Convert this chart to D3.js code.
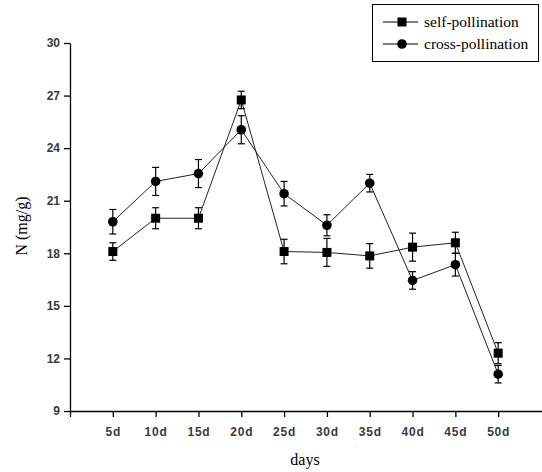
<!DOCTYPE html>
<html>
<head>
<meta charset="utf-8">
<script src="https://cdn.jsdelivr.net/npm/d3@7"></script>
<style>
  body { margin: 0; background: #fff; }
  svg { display: block; }
</style>
</head>
<body>
<div id="chart"></div>
<script>
// N content, self vs cross pollination
const days = ["5d", "10d", "15d", "20d", "25d", "30d", "35d", "40d", "45d", "50d"];
const selfMean = [18.1, 20.0, 20.0, 26.75, 18.1, 18.05, 17.85, 18.35, 18.6, 12.3];
const selfErr  = [0.5, 0.6, 0.6, 0.5, 0.7, 0.8, 0.7, 0.8, 0.6, 0.6];
const crossMean = [19.8, 22.1, 22.55, 25.05, 21.4, 19.6, 22.0, 16.45, 17.35, 11.1];
const crossErr  = [0.7, 0.8, 0.8, 0.8, 0.7, 0.6, 0.5, 0.5, 0.65, 0.5];
const yTicks = [9, 12, 15, 18, 21, 24, 27, 30];

const svg = d3.select("#chart").append("svg")
    .attr("width", 542).attr("height", 472);

const x = d3.scaleLinear().domain([0, 11]).range([70, 541]);
const y = d3.scaleLinear().domain([9, 30]).range([411, 43]);

const tickFont = "'Liberation Sans', Arial, sans-serif";
const serif = "'Liberation Serif', 'Times New Roman', serif";

// y axis
const yAxis = svg.append("g")
    .attr("transform", "translate(70,0)")
    .call(d3.axisLeft(y).tickValues(yTicks).tickSize(6).tickSizeOuter(0).tickPadding(4));
yAxis.selectAll("text").attr("font-family", tickFont).attr("font-size", 12)
    .attr("font-weight", 600).attr("fill", "#3a3a3a");

// x axis
const xAxis = svg.append("g")
    .attr("transform", "translate(0,411)")
    .call(d3.axisBottom(x).tickValues(d3.range(0, 11)).tickSize(6).tickSizeOuter(0).tickPadding(10)
      .tickFormat(function(i) { return i === 0 ? "" : days[i - 1]; }));
xAxis.select(".domain").attr("d", "M70,0.5H542");
xAxis.selectAll("text").attr("font-family", tickFont).attr("font-size", 12)
    .attr("font-weight", 600).attr("letter-spacing", "0.8px").attr("fill", "#3a3a3a");
svg.selectAll(".domain, .tick line").attr("stroke", "#000").attr("stroke-width", 1.3);

// axis titles
svg.append("text")
    .attr("x", 305).attr("y", 465)
    .attr("text-anchor", "middle")
    .attr("font-family", serif).attr("font-size", 16)
    .text("days");
svg.append("text")
    .attr("transform", "translate(27,226) rotate(-90)")
    .attr("text-anchor", "middle")
    .attr("font-family", serif).attr("font-size", 16)
    .text("N (mg/g)");

const series = [
  { name: "self-pollination", mean: selfMean, err: selfErr, shape: "square" },
  { name: "cross-pollination", mean: crossMean, err: crossErr, shape: "circle" }
];

const line = d3.line()
    .x(function(d, i) { return x(i + 1); })
    .y(function(d) { return y(d); });

function marker(g, shape, cx, cy) {
  if (shape === "square") {
    g.append("rect").attr("x", cx - 4.5).attr("y", cy - 4.5)
      .attr("width", 9).attr("height", 9).attr("fill", "#000");
  } else {
    g.append("circle").attr("cx", cx).attr("cy", cy).attr("r", 4.8).attr("fill", "#000");
  }
}

series.forEach(function(s) {
  const g = svg.append("g");
  g.append("path")
    .attr("d", line(s.mean))
    .attr("fill", "none").attr("stroke", "#222").attr("stroke-width", 1);

  s.mean.forEach(function(v, i) {
    const cx = x(i + 1), top = y(v + s.err[i]), bot = y(v - s.err[i]);
    g.append("line").attr("x1", cx).attr("x2", cx).attr("y1", top).attr("y2", bot)
      .attr("stroke", "#000").attr("stroke-width", 1.2);
    g.append("line").attr("x1", cx - 3.5).attr("x2", cx + 3.5).attr("y1", top).attr("y2", top)
      .attr("stroke", "#000").attr("stroke-width", 1.2);
    g.append("line").attr("x1", cx - 3.5).attr("x2", cx + 3.5).attr("y1", bot).attr("y2", bot)
      .attr("stroke", "#000").attr("stroke-width", 1.2);
    marker(g, s.shape, cx, y(v));
  });
});

// legend
const legend = svg.append("g");
legend.append("rect")
    .attr("x", 372.5).attr("y", 4.5).attr("width", 166).attr("height", 57)
    .attr("fill", "#fff").attr("stroke", "#000").attr("stroke-width", 1);
series.forEach(function(s, i) {
  const ly = 22 + i * 22;
  legend.append("line").attr("x1", 383).attr("x2", 418).attr("y1", ly).attr("y2", ly)
    .attr("stroke", "#000").attr("stroke-width", 1.2);
  marker(legend, s.shape, 402, ly);
  legend.append("text")
    .attr("x", 424).attr("y", ly).attr("dy", "0.35em")
    .attr("font-family", serif).attr("font-size", 15.5)
    .text(s.name);
});
</script>
</body>
</html>
